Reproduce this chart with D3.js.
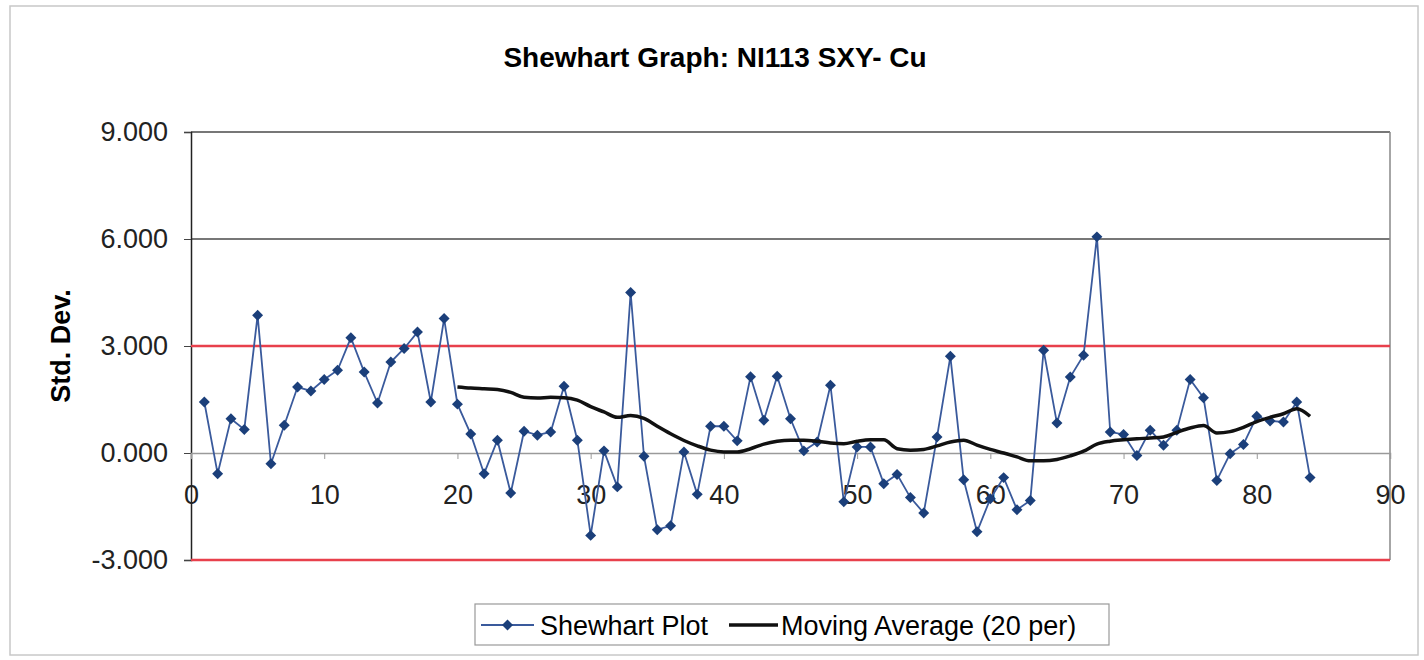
<!DOCTYPE html>
<meta charset="utf-8">
<body style="margin:0;background:white">
  <div id="content"></div>
</body>
<script src="https://cdn.jsdelivr.net/npm/d3@7"></script>
<script>
// shewhart values, one per sample (x = 1..84)
var samples = d3.range(1, 85);
var shewhart = [
  1.43, -0.58, 0.96, 0.66, 3.86, -0.30, 0.78, 1.85, 1.74, 2.06,
  2.32, 3.23, 2.27, 1.40, 2.55, 2.93, 3.39, 1.43, 3.77, 1.37,
  0.53, -0.58, 0.36, -1.12, 0.61, 0.50, 0.59, 1.87, 0.36, -2.31,
  0.06, -0.95, 4.50, -0.09, -2.15, -2.04, 0.03, -1.16, 0.75, 0.75,
  0.34, 2.14, 0.92, 2.15, 0.96, 0.06, 0.31, 1.90, -1.37, 0.17,
  0.17, -0.86, -0.60, -1.25, -1.68, 0.45, 2.71, -0.75, -2.21, -1.28,
  -0.69, -1.59, -1.33, 2.88, 0.84, 2.13, 2.74, 6.06, 0.59, 0.52,
  -0.07, 0.64, 0.22, 0.64, 2.06, 1.55, -0.77, -0.02, 0.24, 1.03,
  0.90, 0.87, 1.43, -0.69
];
// moving average, x = 20..84
var maStart = 20;
var movingAvg = [
  1.85, 1.82, 1.80, 1.78, 1.70, 1.56, 1.54, 1.56, 1.55, 1.48,
  1.30, 1.15, 1.00, 1.05, 0.97, 0.75, 0.54, 0.35, 0.20, 0.08,
  0.03, 0.03, 0.12, 0.25, 0.33, 0.36, 0.36, 0.33, 0.28, 0.26,
  0.33, 0.37, 0.37, 0.12, 0.08, 0.10, 0.20, 0.31, 0.36, 0.22,
  0.10, 0.00, -0.11, -0.22, -0.22, -0.18, -0.08, 0.05, 0.25, 0.33,
  0.37, 0.40, 0.42, 0.45, 0.58, 0.70, 0.77, 0.56, 0.60, 0.72,
  0.88, 1.00, 1.10, 1.24, 1.03
];
var limits = [3, -3];
var yTicks = [-3, 0, 3, 6, 9];
var xTicks = [0, 10, 20, 30, 40, 50, 60, 70, 80, 90];
var seriesNames = ["Shewhart Plot", "Moving Average (20 per)"];

var W = 1424, H = 660;
var plot = { left: 191, right: 1390, top: 132, bottom: 560 };
var font = "'Liberation Sans', Arial, sans-serif";

var svg = d3.select('#content').append('svg')
  .attr('width', W).attr('height', H)
  .style('font-family', font);

var x = d3.scaleLinear().domain([0, 90]).range([plot.left, plot.right]);
var y = d3.scaleLinear().domain([-3, 9]).range([plot.bottom, plot.top]);

// outer chart border
svg.append('rect')
  .attr('x', 10).attr('y', 6).attr('width', 1408).attr('height', 649)
  .attr('fill', 'white').attr('stroke', '#c8c8c8').attr('stroke-width', 1.5);

// title
svg.append('text')
  .attr('x', 715).attr('y', 67)
  .attr('text-anchor', 'middle')
  .attr('font-size', 28).attr('font-weight', 'bold')
  .text('Shewhart Graph: NI113 SXY- Cu');

// gridlines (the ones not covered by limits/axis)
svg.append('g').selectAll('line')
  .data(yTicks.filter(function (d) { return d == 6 || d == 9; }))
  .enter().append('line')
  .attr('x1', plot.left).attr('x2', plot.right)
  .attr('y1', function (d) { return y(d); }).attr('y2', function (d) { return y(d); })
  .attr('stroke', '#4a4a4a').attr('stroke-width', 1.5);

// right border
svg.append('line')
  .attr('x1', plot.right).attr('x2', plot.right)
  .attr('y1', plot.top).attr('y2', plot.bottom)
  .attr('stroke', '#888').attr('stroke-width', 1.5);

// y axis, hyphen for negatives like the original
var fmt3 = d3.format('.3f');
var yAxis = d3.axisLeft(y).tickValues(yTicks).tickSize(7).tickPadding(16)
  .tickFormat(function (d) { return fmt3(d).replace('\u2212', '-'); });
var gy = svg.append('g').attr('transform', 'translate(' + plot.left + ',0)').call(yAxis);
gy.select('.domain').attr('stroke', '#222').attr('stroke-width', 1.5);
gy.selectAll('.tick line').attr('stroke', '#444');
gy.selectAll('text').attr('font-size', 27).attr('font-family', font).attr('fill', '#222');

// x axis at zero
var xAxis = d3.axisBottom(x).tickValues(xTicks).tickSize(6).tickPadding(26)
  .tickFormat(d3.format('d'));
var gx = svg.append('g').attr('transform', 'translate(0,' + y(0) + ')').call(xAxis);
gx.select('.domain').attr('stroke', '#9a9a9a').attr('stroke-width', 1.5);
gx.selectAll('.tick line').attr('stroke', '#999');
gx.selectAll('text').attr('font-size', 27).attr('font-family', font).attr('fill', '#222');

// y axis title
svg.append('text')
  .attr('transform', 'translate(70,' + y(3) + ') rotate(-90)')
  .attr('text-anchor', 'middle')
  .attr('font-size', 27).attr('font-weight', 'bold')
  .text('Std. Dev.');

// control limits
svg.append('g').selectAll('line').data(limits).enter().append('line')
  .attr('x1', plot.left).attr('x2', plot.right)
  .attr('y1', function (d) { return y(d); }).attr('y2', function (d) { return y(d); })
  .attr('stroke', '#e8404c').attr('stroke-width', 2.5);

// shewhart line + markers
var pts = samples.map(function (s, i) { return [s, shewhart[i]]; });
var line = d3.line().x(function (d) { return x(d[0]); }).y(function (d) { return y(d[1]); });
svg.append('path').datum(pts)
  .attr('d', line).attr('fill', 'none')
  .attr('stroke', '#3a5a9c').attr('stroke-width', 1.8);

var diamond = d3.symbol().type(d3.symbolSquare).size(60);
svg.append('g').selectAll('path').data(pts).enter().append('path')
  .attr('d', diamond)
  .attr('transform', function (d) { return 'translate(' + x(d[0]) + ',' + y(d[1]) + ') rotate(45)'; })
  .attr('fill', '#1b3f7a');

// moving average
var ma = movingAvg.map(function (v, i) { return [maStart + i, v]; });
svg.append('path').datum(ma)
  .attr('d', d3.line().curve(d3.curveMonotoneX)
    .x(function (d) { return x(d[0]); }).y(function (d) { return y(d[1]); }))
  .attr('fill', 'none').attr('stroke', '#111').attr('stroke-width', 3.5);

// legend
var lg = svg.append('g');
lg.append('rect')
  .attr('x', 475).attr('y', 604).attr('width', 634).attr('height', 41)
  .attr('fill', 'white').attr('stroke', '#999').attr('stroke-width', 1.2);
lg.append('line').attr('x1', 481).attr('x2', 534).attr('y1', 625).attr('y2', 625)
  .attr('stroke', '#3a5a9c').attr('stroke-width', 1.8);
lg.append('path').attr('d', diamond)
  .attr('transform', 'translate(507.5,625) rotate(45)').attr('fill', '#1b3f7a');
lg.append('line').attr('x1', 729).attr('x2', 778).attr('y1', 625).attr('y2', 625)
  .attr('stroke', '#111').attr('stroke-width', 3.5);
lg.selectAll('text').data(seriesNames).enter().append('text')
  .attr('x', function (d, i) { return i == 0 ? 540 : 781; })
  .attr('y', 635)
  .attr('font-size', 27)
  .text(function (d) { return d; });
</script>
